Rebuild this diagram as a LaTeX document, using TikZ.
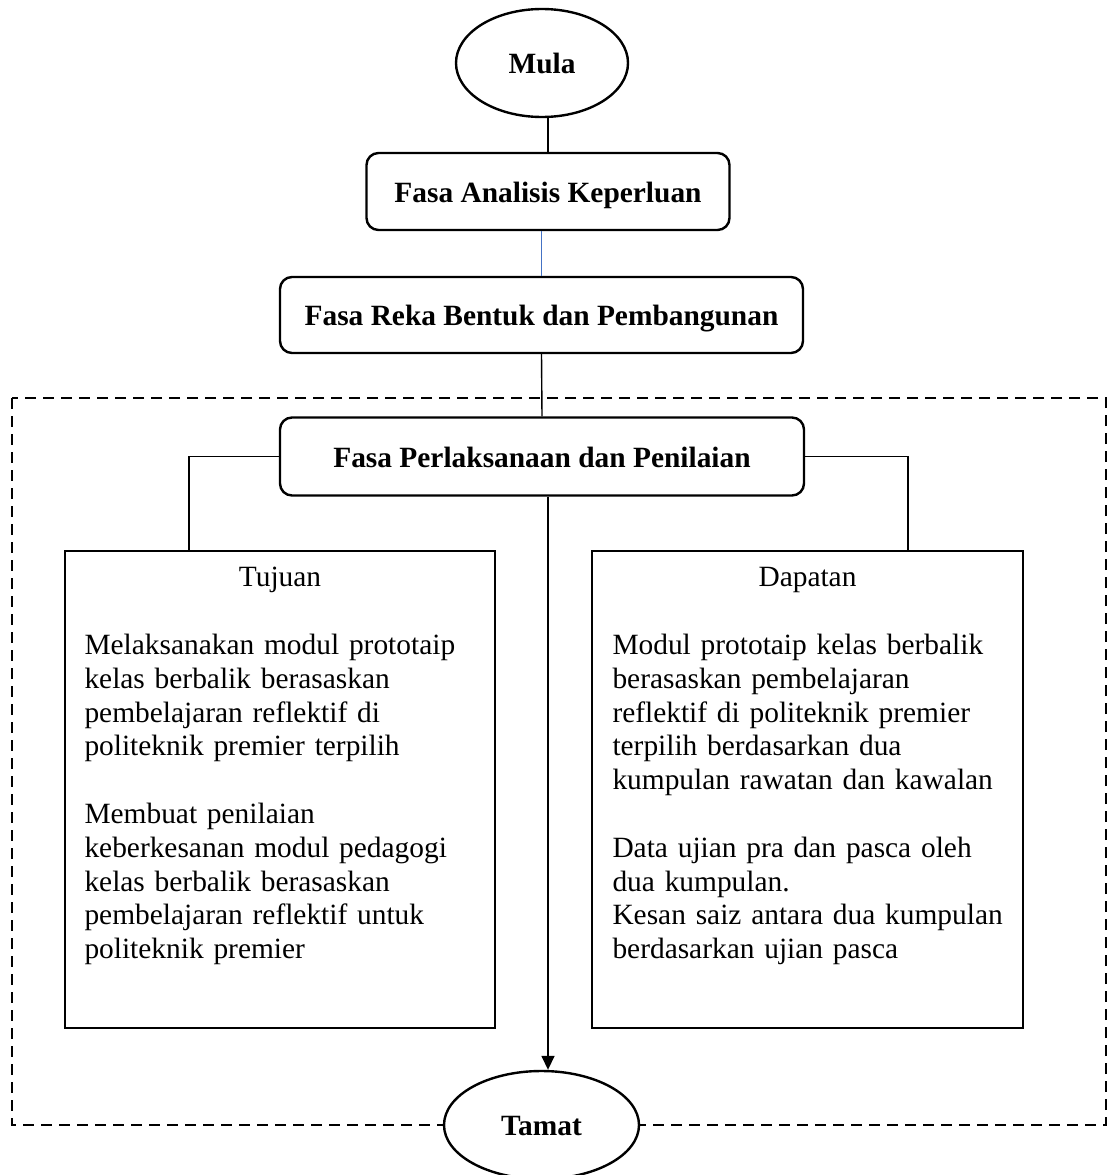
\documentclass[tikz,border=0pt]{standalone}
\usepackage{fontspec}
\setmainfont{Liberation Serif}
\usetikzlibrary{shapes.geometric,arrows.meta}
\definecolor{linkblue}{RGB}{68,114,196}

\begin{document}
\begin{tikzpicture}[x=1pt,y=-1pt,
  every node/.style={font=\fontsize{29.4}{33.8}\selectfont},
  terminal/.style={ellipse,draw,line width=2.4pt,fill=white,inner sep=0pt,
    font=\fontsize{29.4}{33.8}\selectfont\bfseries,text height=26pt,text depth=5pt},
  phase/.style={rectangle,rounded corners=12pt,draw,line width=2.4pt,fill=white,inner sep=0pt,
    font=\fontsize{29.4}{33.8}\selectfont\bfseries,text height=26pt,text depth=5pt},
  panel/.style={rectangle,draw,line width=1.4pt,inner sep=0pt},
  paneltitle/.style={anchor=base,inner sep=0pt},
  panelbody/.style={anchor=north west,inner sep=0pt,align=left,text width=405pt},
  link/.style={line width=1.4pt},
  outline/.style={line width=2.2pt,dash pattern=on 11pt off 7pt},
  flow/.style={line width=1.6pt,-{Triangle[length=14pt,width=13pt]}}]

\useasboundingbox (0,0) rectangle (1108,1175);

% dashed frame around the implementation stage
\draw[outline] (12,398) rectangle (1106,1125);

% start, phases and end
\node[terminal,minimum width=172pt,minimum height=108pt] (mula) at (542,63) {Mula};
\node[phase,minimum width=363pt,minimum height=77pt] (analisis) at (548,191.5) {Fasa Analisis Keperluan};
\node[phase,minimum width=523pt,minimum height=76pt] (reka) at (541.5,315) {Fasa Reka Bentuk dan Pembangunan};
\node[phase,minimum width=524pt,minimum height=78pt] (perlaksanaan) at (542,456.5) {Fasa Perlaksanaan dan Penilaian};
\node[terminal,minimum width=195pt,minimum height=108pt] (tamat) at (541.5,1125) {Tamat};

% objective and outcome panels
\node[panel,minimum width=430pt,minimum height=477pt] (tujuan) at (280,789.5) {};
\node[panel,minimum width=431pt,minimum height=477pt] (dapatan) at (807.5,789.5) {};

\node[paneltitle] (tujuanhead) at ([yshift=-36pt]tujuan.north) {Tujuan};
\node[panelbody] (tujuanbody) at ([xshift=20pt,yshift=-80.3pt]tujuan.north west) {\strut Melaksanakan modul prototaip\\
kelas berbalik berasaskan\\
pembelajaran reflektif di\\
politeknik premier terpilih\\[33.8pt]
Membuat penilaian\\
keberkesanan modul pedagogi\\
kelas berbalik berasaskan\\
pembelajaran reflektif untuk\\
politeknik premier};

\node[paneltitle] (dapatanhead) at ([yshift=-36pt]dapatan.north) {Dapatan};
\node[panelbody] (dapatanbody) at ([xshift=21pt,yshift=-80.3pt]dapatan.north west) {\strut Modul prototaip kelas berbalik\\
berasaskan pembelajaran\\
reflektif di politeknik premier\\
terpilih berdasarkan dua\\
kumpulan rawatan dan kawalan\\[33.8pt]
Data ujian pra dan pasca oleh\\
dua kumpulan.\\
Kesan saiz antara dua kumpulan\\
berdasarkan ujian pasca};

% connectors
\draw[link] (analisis.north) -- (analisis.north |- mula.south);
\draw[link,linkblue,line width=1.6pt] (reka.north) -- (reka.north |- analisis.south);
\draw[link] (reka.south) -- (perlaksanaan.north);
\draw[link] (perlaksanaan.west) -| ([xshift=-91pt]tujuan.north);
\draw[link] (perlaksanaan.east) -| ([xshift=100.5pt]dapatan.north);
\draw[flow] ([xshift=6pt]perlaksanaan.south) -- ([xshift=6pt]perlaksanaan.south |- tamat.north);
\end{tikzpicture}
\end{document}
